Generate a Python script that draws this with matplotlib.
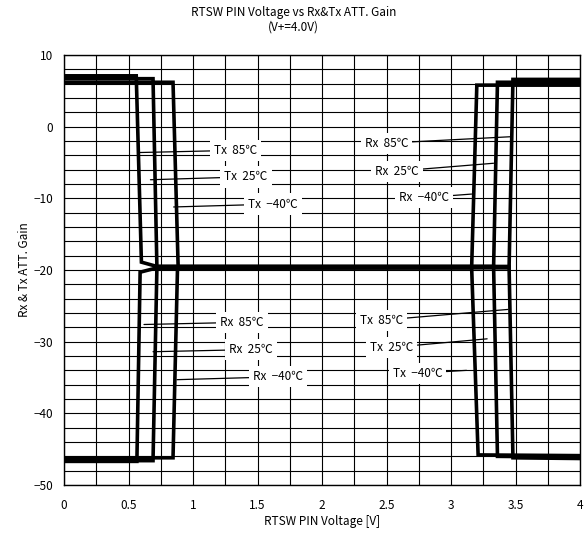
import numpy as np
import matplotlib
matplotlib.use("Agg")
import matplotlib.pyplot as plt
from matplotlib.ticker import MultipleLocator

plt.rcParams['font.family'] = ['Noto Sans CJK JP', 'DejaVu Sans']
plt.rcParams['axes.unicode_minus'] = True

# Gain vs control voltage, one polyline per mode/temperature
tx85_v = [0.0, 0.56, 0.60, 0.72, 3.45, 3.48, 4.0]
tx85_g = [7.1, 7.1, -18.9, -19.5, -19.5, -46.2, -46.3]
tx25_v = [0.0, 0.69, 0.72, 3.33, 3.36, 4.0]
tx25_g = [6.7, 6.7, -19.5, -19.5, -46.0, -46.1]
txm40_v = [0.0, 0.845, 0.885, 3.16, 3.21, 4.0]
txm40_g = [6.2, 6.2, -19.7, -19.7, -45.8, -45.9]

rx85_v = [0.0, 0.565, 0.59, 0.72, 3.45, 3.48, 4.0]
rx85_g = [-46.7, -46.7, -20.3, -19.7, -19.7, 6.6, 6.6]
rx25_v = [0.0, 0.69, 0.72, 3.33, 3.36, 4.0]
rx25_g = [-46.6, -46.6, -19.8, -19.6, 6.2, 6.2]
rxm40_v = [0.0, 0.845, 0.88, 3.16, 3.20, 4.0]
rxm40_g = [-46.2, -46.2, -19.6, -19.6, 5.8, 5.8]

curves = [(tx85_v, tx85_g), (tx25_v, tx25_g), (txm40_v, txm40_g),
          (rx85_v, rx85_g), (rx25_v, rx25_g), (rxm40_v, rxm40_g)]

# label text, label position, point on the curve
labels = [
    ("Tx  85℃", (1.33, -3.3), (0.59, -3.6)),
    ("Tx  25℃", (1.41, -7.0), (0.67, -7.4)),
    ("Tx  −40℃", (1.62, -10.8), (0.85, -11.2)),
    ("Rx  85℃", (1.38, -27.3), (0.62, -27.6)),
    ("Rx  25℃", (1.45, -31.1), (0.69, -31.4)),
    ("Rx  −40℃", (1.66, -34.9), (0.876, -35.3)),
    ("Rx  85℃", (2.50, -2.3), (3.46, -1.4)),
    ("Rx  25℃", (2.58, -6.2), (3.33, -5.1)),
    ("Rx  −40℃", (2.79, -9.9), (3.16, -9.4)),
    ("Tx  85℃", (2.46, -27.0), (3.44, -25.5)),
    ("Tx  25℃", (2.54, -30.8), (3.28, -29.6)),
    ("Tx  −40℃", (2.74, -34.4), (3.12, -34.0)),
]

fig = plt.figure(figsize=(5.84, 5.37), dpi=100)
ax = fig.add_axes([0.1096, 0.0968, 0.8836, 0.8007])

for v, g in curves:
    ax.plot(v, g, color='black', lw=2.6, solid_joinstyle='miter', zorder=3)

for text, xy_text, xy in labels:
    ax.annotate(text, xy=xy, xytext=xy_text, fontsize=8.5, ha='center', va='center',
                bbox=dict(boxstyle='square,pad=0.35', fc='white', ec='none'),
                arrowprops=dict(arrowstyle='-', color='black', lw=0.9,
                                shrinkA=0, shrinkB=0),
                zorder=4)

ax.set_xlim(0, 4)
ax.set_ylim(-50, 10)
ax.xaxis.set_minor_locator(MultipleLocator(0.25))
ax.yaxis.set_major_locator(MultipleLocator(10))
ax.yaxis.set_minor_locator(MultipleLocator(2))
ax.set_xticks([0, 0.5, 1, 1.5, 2, 2.5, 3, 3.5, 4])
ax.set_xticklabels(['0', '0.5', '1', '1.5', '2', '2.5', '3', '3.5', '4'])
ax.grid(which='both', color='black', lw=0.8)
ax.set_axisbelow(True)
ax.tick_params(which='both', length=0, labelsize=8.5)
ax.tick_params(axis='x', pad=10)
ax.tick_params(axis='y', pad=8)
for s in ax.spines.values():
    s.set_color('black')
    s.set_linewidth(1.0)

ax.set_xlabel("RTSW PIN Voltage [V]", fontsize=8.5, labelpad=2)
ax.set_ylabel("Rx & Tx ATT. Gain", fontsize=8.5)
ax.yaxis.set_label_coords(-0.064, 0.5)
fig.text(0.503, 0.988, "RTSW PIN Voltage vs Rx&Tx ATT. Gain\n(V+=4.0V)",
         ha='center', va='top', fontsize=8.5, linespacing=1.15)

fig.savefig("out.png", dpi=100)
